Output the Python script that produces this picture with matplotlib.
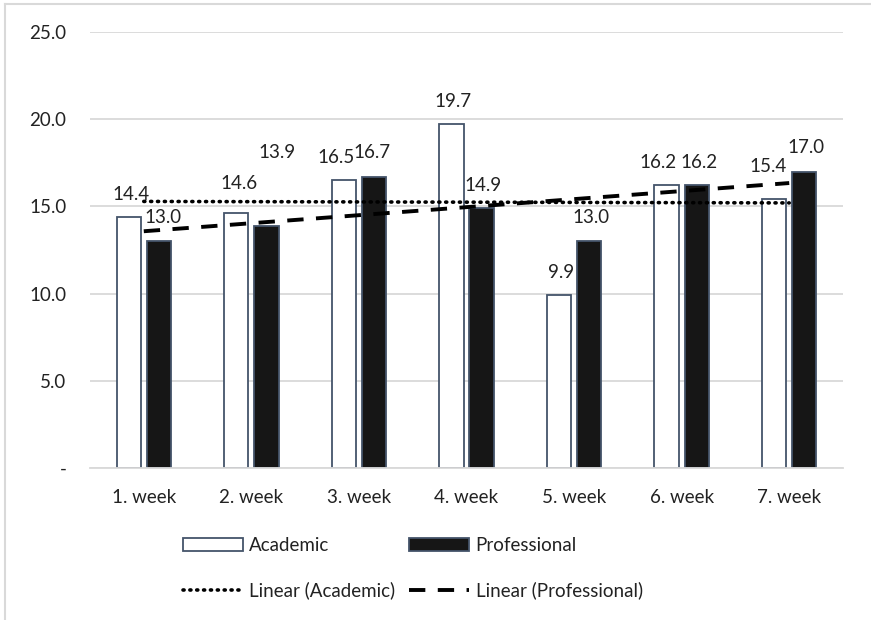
import numpy as np
import matplotlib
matplotlib.use("Agg")
import matplotlib.pyplot as plt
from matplotlib.lines import Line2D

plt.rcParams['font.family'] = ['Lato', 'DejaVu Sans']

weeks = ["1. week", "2. week", "3. week", "4. week", "5. week", "6. week", "7. week"]
academic = [14.4, 14.6, 16.5, 19.7, 9.9, 16.2, 15.4]
professional = [13.0, 13.9, 16.7, 14.9, 13.0, 16.2, 17.0]
yticks = [0, 5, 10, 15, 20, 25]
ytick_labels = ["-", "5.0", "10.0", "15.0", "20.0", "25.0"]

# label offsets in pixels (dx, dy) relative to bar top centre
acad_off = [(2, 22), (3, 30), (-8, 23), (2, 23), (2, 23), (-9, 23), (-6, 33)]
prof_off = [(4, 24), (11, 73), (-2, 24), (1, 23), (2, 24), (2, 23), (2, 24)]

W, H = 871, 620
FS = 13.5
fig = plt.figure(figsize=(W / 100, H / 100), dpi=100)
ax = fig.add_axes([90 / W, 1 - 468 / H, (843 - 90) / W, (468 - 32) / H])

x = np.arange(len(weeks))
bw = 0.225
off = 0.14
edge = "#44546a"
ax.bar(x - off, academic, bw, color="white", edgecolor=edge, linewidth=1.3, zorder=2, label="Academic")
ax.bar(x + off, professional, bw, color="#161616", edgecolor=edge, linewidth=1.3, zorder=2, label="Professional")

xs = np.arange(1, len(weeks) + 1)
pa = np.polyfit(xs, academic, 1)
pp = np.polyfit(xs, professional, 1)
ax.plot(x, np.polyval(pa, xs), color="black", linestyle=(0, (0.3, 1.6)), dash_capstyle="round",
        linewidth=2.6, zorder=3, label="Linear (Academic)")
ax.plot(x, np.polyval(pp, xs), color="black", linestyle=(0, (4.2, 3.2)),
        linewidth=2.8, zorder=3, label="Linear (Professional)")

for i in range(len(weeks)):
    for vals, offs, sgn in ((academic, acad_off, -1), (professional, prof_off, 1)):
        dx, dy = offs[i]
        ax.annotate(f"{vals[i]:.1f}", (x[i] + sgn * off, vals[i]), xytext=(dx * 0.72, dy * 0.72),
                    textcoords="offset points", ha="center", va="center", fontsize=FS, color="#222222")

ax.set_xlim(-0.5, len(weeks) - 0.5)
ax.set_ylim(0, 25)
ax.set_yticks(yticks)
ax.set_yticklabels(ytick_labels)
ax.set_xticks(x)
ax.set_xticklabels(weeks)
ax.tick_params(axis="both", length=0, labelsize=FS, colors="#222222")
ax.tick_params(axis="y", pad=17)
ax.tick_params(axis="x", pad=15)
ax.yaxis.grid(True, color="#d9d9d9", linewidth=1.3, zorder=0)
ax.set_axisbelow(True)
for s in ["top", "right", "left"]:
    ax.spines[s].set_visible(False)
ax.spines["bottom"].set_color("#d9d9d9")
ax.spines["bottom"].set_linewidth(1.3)

h, l = ax.get_legend_handles_labels()
# order: Academic, Linear(Acad), Professional, Linear(Prof) -> column-major fill
order = [2, 0, 3, 1]
handles = [h[i] for i in order]
labels = [l[i] for i in order]
fig.legend(handles, labels, ncol=2, loc="upper left", bbox_to_anchor=(183 / W, 1 - 537 / H),
           frameon=False, fontsize=FS, handlelength=3.2, handletextpad=0.33, columnspacing=0.75,
           labelspacing=1.45, borderpad=0, borderaxespad=0, labelcolor="#222222")

fig.add_artist(Line2D([5 / W, 1], [1 - 3.5 / H, 1 - 3.5 / H], color="#d9d9d9", linewidth=1.5))
fig.add_artist(Line2D([5 / W, 5 / W], [0, 1 - 3.5 / H], color="#d9d9d9", linewidth=1.5))

fig.savefig("out.png", dpi=100)
